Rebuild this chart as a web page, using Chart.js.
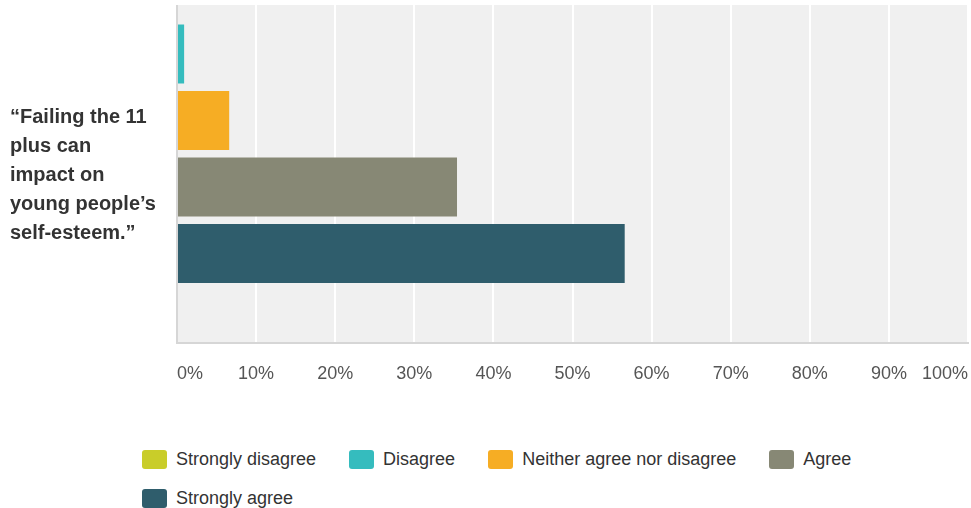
<!DOCTYPE html>
<html>
<head>
<meta charset="utf-8">
<script src="https://cdn.jsdelivr.net/npm/chart.js@4.4.0/dist/chart.umd.min.js"></script>
<style>
    body { margin: 0; background: #fff; font-family: "Liberation Sans", Arial, sans-serif; }
    #page { position: relative; width: 971px; height: 508px; overflow: hidden; }
    #plotClip { position: absolute; left: 0; top: 5px; width: 971px; height: 400px; overflow: hidden; }
    #chart { position: absolute; left: 0; top: -107px; }
    #catLabel { position: absolute; left: 10px; top: 102px; font-weight: bold; font-size: 20px; line-height: 29px; color: #333; }
    #legend { position: absolute; left: 142px; top: 440px; width: 829px; display: flex; flex-wrap: wrap; column-gap: 33px; }
    .item { display: flex; align-items: center; height: 39px; font-size: 18px; color: #333; }
    .swatch { width: 25px; height: 19px; border-radius: 3px; margin-right: 9px; }
</style>
</head>
<body>
<div id="page">
    <div id="plotClip"><canvas id="chart" width="971" height="505"></canvas></div>
    <div id="catLabel"></div>
    <div id="legend"></div>
</div>
<script>
const categories = [['“Failing the 11', 'plus can', 'impact on', 'young people’s', 'self-esteem.”']];
const seriesNames = ['Strongly disagree', 'Disagree', 'Neither agree nor disagree', 'Agree', 'Strongly agree'];
const seriesValues = [0, 0.9, 6.6, 35.4, 56.6];
const seriesColors = ['#c9cd29', '#35bcbe', '#f6ad24', '#878875', '#2f5d6c'];
const xTickLabels = ['0%', '10%', '20%', '30%', '40%', '50%', '60%', '70%', '80%', '90%', '100%'];

Chart.defaults.font.family = '"Liberation Sans", Arial, sans-serif';

// grey plot background behind the grid
const plotBackground = {
    id: 'plotBackground',
    beforeDraw(chart) {
        const { ctx, chartArea } = chart;
        ctx.save();
        ctx.fillStyle = '#f0f0f0';
        ctx.fillRect(chartArea.left, chartArea.top, chartArea.right - chartArea.left, chartArea.bottom - chartArea.top);
        ctx.restore();
    }
};

const datasets = seriesNames.map((name, i) => ({
    label: name,
    data: [seriesValues[i]],
    backgroundColor: seriesColors[i],
    borderWidth: 0,
    categoryPercentage: 0.7472,
    barPercentage: 0.887
}));

new Chart(document.getElementById('chart'), {
    type: 'bar',
    data: {
        labels: categories,
        datasets: datasets
    },
    options: {
        indexAxis: 'y',
        responsive: false,
        animation: false,
        layout: { padding: { top: 0, right: 3, bottom: 0, left: 0 } },
        scales: {
            x: {
                min: 0,
                max: 100,
                afterFit: scale => {
                    scale.height = 60;
                    // labels are aligned inward, no extra room needed at the ends
                    scale.paddingLeft = 0;
                    scale.paddingRight = 0;
                },
                grid: { color: '#ffffff', lineWidth: 2, drawTicks: false },
                border: { display: true, color: '#d6d6d6', width: 2 },
                ticks: {
                    stepSize: 10,
                    autoSkip: false,
                    maxRotation: 0,
                    align: 'inner',
                    padding: 20,
                    color: '#555',
                    font: { size: 18 },
                    callback: (value, index) => xTickLabels[index]
                }
            },
            y: {
                afterFit: scale => { scale.width = 177; },
                grid: { display: false },
                border: { display: true, color: '#d6d6d6', width: 2 },
                ticks: { display: false }
            }
        },
        plugins: {
            legend: { display: false },
            tooltip: { enabled: false }
        }
    },
    plugins: [plotBackground]
});

// category label and legend as page text
document.getElementById('catLabel').innerHTML = categories[0].join('<br>');

const legendEl = document.getElementById('legend');
seriesNames.forEach((name, i) => {
    const item = document.createElement('div');
    item.className = 'item';
    item.innerHTML = `<span class="swatch" style="background:${seriesColors[i]}"></span>${name}`;
    legendEl.appendChild(item);
});
</script>
</body>
</html>
